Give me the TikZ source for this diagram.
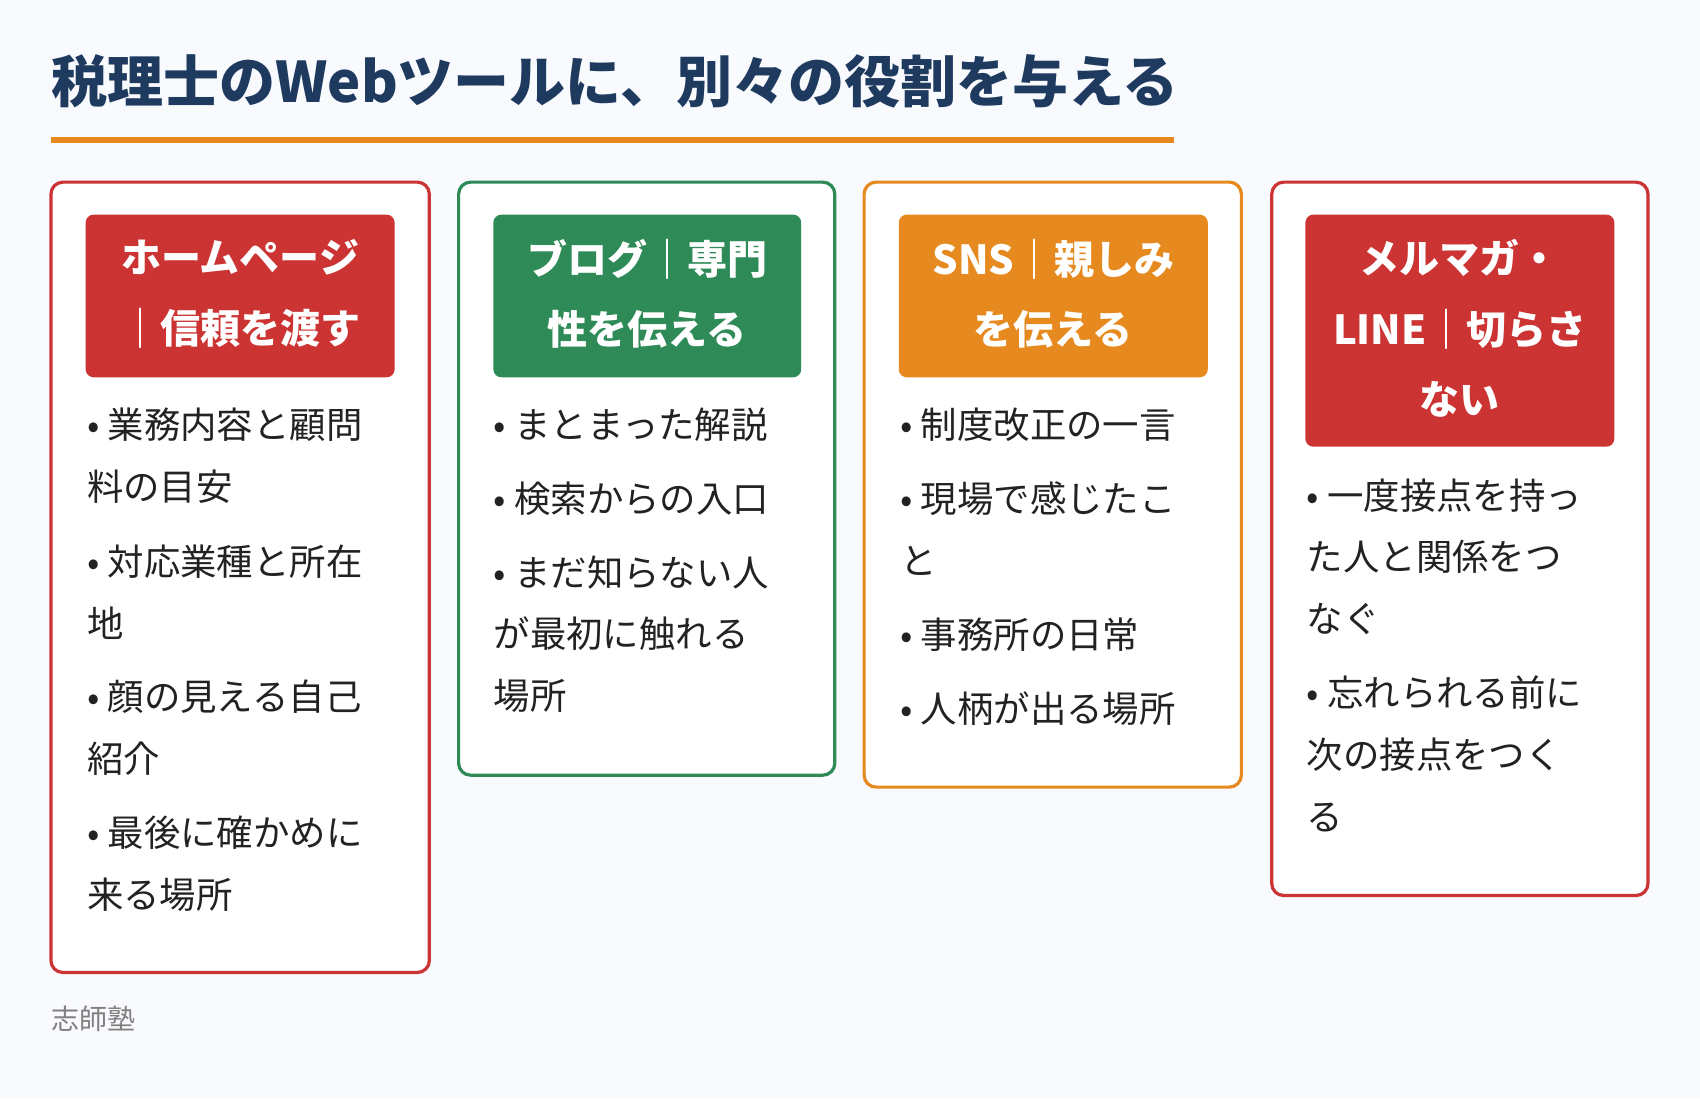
\documentclass[tikz,border=0pt]{standalone}
\usepackage{fontspec}
\setmainfont{Noto Sans CJK JP}
\XeTeXlinebreaklocale "ja"
\definecolor{bg}{HTML}{F8FAFD}
\definecolor{navy}{HTML}{1F3A5F}
\definecolor{cred}{HTML}{CC3333}
\definecolor{cgreen}{HTML}{2E8B57}
\definecolor{corange}{HTML}{E68A1F}
\definecolor{txt}{HTML}{222222}
\begin{document}
\begin{tikzpicture}[x=0.5421pt,y=-0.5421pt,
  card/.style={draw=#1,line width=1.6pt,fill=white,rounded corners=6pt},
  head/.style={fill=#1,rounded corners=4pt},
  htxt/.style={text=white,font=\fontsize{20}{35.2}\selectfont\bfseries,align=center},
  item/.style={anchor=north west,inner sep=0pt,text=txt,align=left,font=\fontsize{18.2}{30.9}\selectfont}]
\fill[bg] (0,0) rectangle (1568,1013);
\useasboundingbox (0,0) rectangle (1568,1013);
\node[anchor=west,inner sep=0pt,text=navy,font=\fontsize{28}{32}\selectfont\bfseries] (title) at (47,75) {税理士のWebツールに、別々の役割を与える};
\draw[corange,line width=2.7pt] (47,129) -- (1083,129);
% cards
\draw[card=cred] (47,168) rectangle (396,897);
\draw[card=cgreen] (423,168) rectangle (770,715);
\draw[card=corange] (797,168) rectangle (1145,726);
\draw[card=cred] (1173,168) rectangle (1520,826);
% headers
\fill[head=cred] (79,198) rectangle (364,348);
\node[htxt] (h1) at (221.5,271) {ホームページ\\｜信頼を渡す};
\fill[head=cgreen] (455,198) rectangle (739,348);
\node[htxt] (h2) at (597,271) {ブログ｜専門\\性を伝える};
\fill[head=corange] (829,198) rectangle (1114,348);
\node[htxt] (h3) at (971.5,271) {SNS｜親しみ\\を伝える};
\fill[head=cred] (1204,198) rectangle (1489,412);
\node[htxt] (h4) at (1346.5,303) {メルマガ・\\LINE｜切らさ\\ない};
% items card 1
\node[item] (a1) at (80,376) {• 業務内容と顧問\\料の目安};
\node[item] (a2) at (80,502) {• 対応業種と所在\\地};
\node[item] (a3) at (80,627) {• 顔の見える自己\\紹介};
\node[item] (a4) at (80,752) {• 最後に確かめに\\来る場所};
% card 2
\node[item] (b1) at (455,376) {• まとまった解説};
\node[item] (b2) at (455,444) {• 検索からの入口};
\node[item] (b3) at (455,512) {• まだ知らない人\\が最初に触れる\\場所};
% card 3
\node[item] (c1) at (830,376) {• 制度改正の一言};
\node[item] (c2) at (830,444) {• 現場で感じたこ\\と};
\node[item] (c3) at (830,570) {• 事務所の日常};
\node[item] (c4) at (830,638) {• 人柄が出る場所};
% card 4
\node[item] (d1) at (1205,441) {• 一度接点を持っ\\た人と関係をつ\\なぐ};
\node[item] (d2) at (1205,623) {• 忘れられる前に\\次の接点をつく\\る};
\node[anchor=west,inner sep=0pt,text=gray,font=\fontsize{14}{16}\selectfont] (foot) at (47,940) {志師塾};
\end{tikzpicture}
\end{document}
